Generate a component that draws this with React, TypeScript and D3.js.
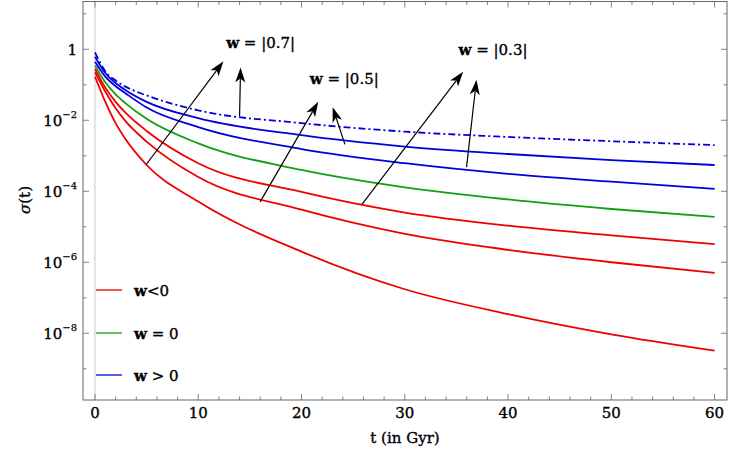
import React from 'react';
import * as d3 from 'd3';

// time in Gyr and log10(sigma)
const tValues = [0, 1, 2, 3, 5, 10, 20, 30, 40, 50, 60];
const logDashDot = [-0.09, -0.62, -0.88, -1.06, -1.30, -1.72, -2.08, -2.32, -2.47, -2.59, -2.70];
const logBlue1 = [-0.21, -0.67, -0.95, -1.16, -1.48, -1.94, -2.42, -2.74, -2.95, -3.12, -3.26];
const logBlue2 = [-0.35, -0.77, -1.04, -1.25, -1.64, -2.19, -2.81, -3.21, -3.51, -3.73, -3.93];
const logGreen = [-0.46, -0.93, -1.27, -1.53, -1.96, -2.65, -3.40, -3.89, -4.23, -4.50, -4.72];
const logRed1 = [-0.55, -1.08, -1.48, -1.80, -2.30, -3.21, -4.02, -4.60, -4.97, -5.24, -5.49];
const logRed2 = [-0.65, -1.19, -1.66, -2.04, -2.60, -3.60, -4.52, -5.20, -5.65, -6.00, -6.30];
const logRed3 = [-0.77, -1.48, -2.08, -2.55, -3.26, -4.29, -5.70, -6.76, -7.46, -8.03, -8.49];

const xTickLabels = [0, 10, 20, 30, 40, 50, 60];
const yTickExponents = [0, -2, -4, -6, -8];

const legendLabels = ['w<0', 'w = 0', 'w > 0'];

// annotations: [tTail, logTail, tTip, logTip]
const arrows = [
  [4.93, -3.26, 12.44, -0.34],
  [14.0, -1.89, 14.1, -0.51],
  [15.99, -4.30, 21.62, -1.48],
  [24.2, -2.68, 23.02, -1.63],
  [25.85, -4.37, 35.65, -0.63],
  [35.98, -3.32, 36.94, -0.86],
];
const annotationText = ['|0.7|', '|0.5|', '|0.3|'];
const annotationT = [12.7, 20.8, 35.2];
const annotationLog = [0.18, -0.81, -0.02];

const RED = '#ee0000';
const GREEN = '#11a011';
const BLUE = '#0000dd';
const FONT = 'DejaVu Serif';

const App: React.FC = () => {
  const width = 734;
  const height = 451;
  const left = 83, right = 727, top = 1.5, bottom = 400;

  const x = d3.scaleLinear().domain([-1.16, 61.2]).range([left, right]);
  const y = d3.scaleLog().domain([Math.pow(10, -9.88), Math.pow(10, 1.346)]).range([bottom, top]);

  const line = d3.line<[number, number]>()
    .x(d => x(d[0]))
    .y(d => y(Math.pow(10, d[1])))
    .curve(d3.curveMonotoneX);

  const curves = [
    { v: logRed3, color: RED, dash: null },
    { v: logRed2, color: RED, dash: null },
    { v: logRed1, color: RED, dash: null },
    { v: logGreen, color: GREEN, dash: null },
    { v: logBlue2, color: BLUE, dash: null },
    { v: logBlue1, color: BLUE, dash: null },
    { v: logDashDot, color: BLUE, dash: '7,3,2,3' },
  ];

  const minorX = d3.range(0, 61, 2);
  const decades = d3.range(-9, 2);
  const legendColors = [RED, GREEN, BLUE];
  const legendY = [290, 333, 375];

  // text looks slightly heavier than a regular weight in the original
  const heavy = { stroke: '#000', strokeWidth: 0.35 };

  const arrowHead = (x1: number, y1: number, x2: number, y2: number) => {
    const dx = x2 - x1, dy = y2 - y1;
    const len = Math.sqrt(dx * dx + dy * dy);
    const ux = dx / len, uy = dy / len;
    const nx = -uy, ny = ux;
    const L = 15, W = 5, N = 4;
    const p = [
      [x2, y2],
      [x2 - ux * L + nx * W, y2 - uy * L + ny * W],
      [x2 - ux * (L - N), y2 - uy * (L - N)],
      [x2 - ux * L - nx * W, y2 - uy * L - ny * W],
    ];
    return { pts: p.map(q => q.join(',')).join(' '), nx: x2 - ux * (L - N), ny: y2 - uy * (L - N) };
  };

  return (
    <svg width={width} height={height} style={{ position: 'absolute', left: 0, top: 0, background: '#fff' }}
      fontFamily={FONT}>
      {/* t = 0 guide */}
      <line x1={x(0)} x2={x(0)} y1={top} y2={bottom} stroke="#c8c8c8" strokeWidth={1} />

      {/* curves */}
      {curves.map((c, i) => (
        <path key={i} d={line(tValues.map((t, j) => [t, c.v[j]]) as [number, number][]) || ''}
          fill="none" stroke={c.color} strokeWidth={1.8}
          strokeDasharray={c.dash || undefined} />
      ))}

      {/* frame */}
      <rect x={left} y={top} width={right - left} height={bottom - top} fill="none" stroke="#666" strokeWidth={1} />

      {/* x ticks, bottom and top */}
      {minorX.map(t => {
        const major = t % 10 === 0;
        const l = major ? 6 : 3.5;
        return (
          <g key={'xt' + t} stroke="#666" strokeWidth={0.8}>
            <line x1={x(t)} x2={x(t)} y1={bottom} y2={bottom - l} />
            <line x1={x(t)} x2={x(t)} y1={top} y2={top + l} />
          </g>
        );
      })}
      {xTickLabels.map(t => (
        <text key={'xl' + t} x={x(t)} y={417.5} textAnchor="middle" fontSize={15} {...heavy}>{t}</text>
      ))}

      {/* y ticks, left and right */}
      {decades.map(e => {
        const major = e % 2 === 0;
        const l = major ? 6 : 3.5;
        const yy = y(Math.pow(10, e));
        return (
          <g key={'yt' + e} stroke="#666" strokeWidth={0.8}>
            <line x1={left} x2={left + l} y1={yy} y2={yy} />
            <line x1={right} x2={right - l} y1={yy} y2={yy} />
          </g>
        );
      })}
      {yTickExponents.map(e => {
        const yy = y(Math.pow(10, e));
        return e === 0 ? (
          <text key={'yl' + e} x={77} y={yy + 5.5} textAnchor="end" fontSize={15} {...heavy}>1</text>
        ) : (
          <text key={'yl' + e} x={77} y={yy + 5.5} textAnchor="end" fontSize={15} {...heavy}>
            10<tspan fontSize={10} dy={-7.5} strokeWidth={0.25}>{'\u2212' + Math.abs(e)}</tspan>
          </text>
        );
      })}

      {/* axis titles */}
      <text transform="translate(30,200) rotate(-90)" textAnchor="middle" fontSize={15} {...heavy}>
        <tspan fontStyle="italic">σ</tspan>(t)
      </text>
      <text x={405} y={443} textAnchor="middle" fontSize={15} {...heavy}>t (in Gyr)</text>

      {/* arrows */}
      {arrows.map((a, i) => {
        const x1 = x(a[0]), y1 = y(Math.pow(10, a[1]));
        const x2 = x(a[2]), y2 = y(Math.pow(10, a[3]));
        const h = arrowHead(x1, y1, x2, y2);
        return (
          <g key={'ar' + i}>
            <line x1={x1} y1={y1} x2={h.nx} y2={h.ny} stroke="#000" strokeWidth={1.2} />
            <polygon points={h.pts} fill="#000" />
          </g>
        );
      })}
      {annotationText.map((s, i) => (
        <text key={'an' + i} x={x(annotationT[i])} y={y(Math.pow(10, annotationLog[i])) + 5.5} fontSize={15} {...heavy}>
          <tspan fontWeight="bold">w</tspan>{' = ' + s}
        </text>
      ))}

      {/* legend */}
      {legendLabels.map((s, i) => (
        <g key={'lg' + i}>
          <line x1={96} x2={122} y1={legendY[i]} y2={legendY[i]} stroke={legendColors[i]} strokeWidth={1.3} />
          <text x={134} y={legendY[i] + 5.5} fontSize={15} {...heavy}>
            <tspan fontWeight="bold">w</tspan>{s.slice(1)}
          </text>
        </g>
      ))}
    </svg>
  );
};

export default App;
